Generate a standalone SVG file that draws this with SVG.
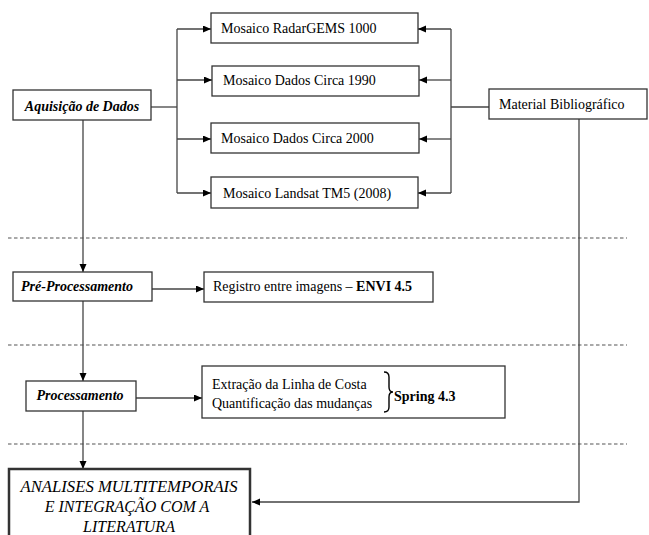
<svg xmlns="http://www.w3.org/2000/svg" width="649" height="535" viewBox="0 0 649 535" font-family="'Liberation Serif', 'DejaVu Serif', serif">
<style>
.box{fill:#fff;stroke:#333;stroke-width:1.3}
.thick{fill:#fff;stroke:#333;stroke-width:2.5}
.ln{fill:none;stroke:#444;stroke-width:1.3}
.dash{fill:none;stroke:#555;stroke-width:1.2;stroke-dasharray:3.5 2.5}
.t{font-size:14px}
.bi{font-size:14px;font-weight:bold;font-style:italic}
.it{font-size:16px;font-style:italic}
.b{font-weight:bold}
</style>
<defs>
<marker id="ah" markerUnits="userSpaceOnUse" markerWidth="9" markerHeight="8" refX="8" refY="3.5" orient="auto">
<path d="M0,0 L8,3.5 L0,7 z" fill="#000"/>
</marker>
</defs>
<g id="separators">
<line class="dash" x1="8" y1="238" x2="627" y2="238"/>
<line class="dash" x1="8" y1="345" x2="627" y2="345"/>
<line class="dash" x1="8" y1="444" x2="627" y2="444"/>
</g>
<g id="connectors">
<path class="ln" d="M151,107 H177"/>
<path class="ln" d="M177,29 V193"/>
<path class="ln" d="M177,29 H211" marker-end="url(#ah)"/>
<path class="ln" d="M177,80 H212" marker-end="url(#ah)"/>
<path class="ln" d="M177,139 H211" marker-end="url(#ah)"/>
<path class="ln" d="M177,193 H211" marker-end="url(#ah)"/>
<path class="ln" d="M451,29 V193"/>
<path class="ln" d="M489,107 H451"/>
<path class="ln" d="M451,29 H418" marker-end="url(#ah)"/>
<path class="ln" d="M451,80 H419" marker-end="url(#ah)"/>
<path class="ln" d="M451,139 H419" marker-end="url(#ah)"/>
<path class="ln" d="M451,193 H418" marker-end="url(#ah)"/>
<path class="ln" d="M83,120 V272" marker-end="url(#ah)"/>
<path class="ln" d="M152,289 H204" marker-end="url(#ah)"/>
<path class="ln" d="M83,301 V381" marker-end="url(#ah)"/>
<path class="ln" d="M136,398 H202" marker-end="url(#ah)"/>
<path class="ln" d="M83,411 V469" marker-end="url(#ah)"/>
<path class="ln" d="M579,119 V502 H252" marker-end="url(#ah)"/>
</g>
<g id="aquisicao">
<rect class="box" x="13" y="90" width="138" height="30"/>
<text class="bi" x="82" y="111" text-anchor="middle">Aquisição de Dados</text>
</g>
<g id="mosaico-radargems">
<rect class="box" x="211" y="13" width="207" height="30"/>
<text class="t" x="221" y="33">Mosaico RadarGEMS 1000</text>
</g>
<g id="mosaico-1990">
<rect class="box" x="212" y="66" width="207" height="30"/>
<text class="t" x="223" y="85">Mosaico Dados Circa 1990</text>
</g>
<g id="mosaico-2000">
<rect class="box" x="211" y="123" width="208" height="30"/>
<text class="t" x="221" y="143">Mosaico Dados Circa 2000</text>
</g>
<g id="mosaico-landsat">
<rect class="box" x="211" y="177" width="207" height="31"/>
<text class="t" x="223" y="198">Mosaico Landsat TM5 (2008)</text>
</g>
<g id="material">
<rect class="box" x="489" y="89" width="158" height="30"/>
<text class="t" x="499" y="109">Material Bibliográfico</text>
</g>
<g id="pre-processamento">
<rect class="box" x="13" y="272" width="139" height="29"/>
<text class="bi" x="77" y="291" text-anchor="middle">Pré-Processamento</text>
</g>
<g id="registro">
<rect class="box" x="204" y="272" width="229" height="30"/>
<text class="t" x="213" y="291">Registro entre imagens – <tspan class="b">ENVI 4.5</tspan></text>
</g>
<g id="processamento">
<rect class="box" x="26" y="381" width="110" height="30"/>
<text class="bi" x="80" y="400" text-anchor="middle">Processamento</text>
</g>
<g id="extracao">
<rect class="box" x="202" y="366" width="303" height="52"/>
<text class="t" x="212" y="389">Extração da Linha de Costa</text>
<text class="t" x="212" y="408">Quantificação das mudanças</text>
<path d="M384,372 Q389,372 389,377 V387 Q389,392 393,392 Q389,392 389,397 V407 Q389,412 384,412" fill="none" stroke="#000" stroke-width="1.4"/>
<text class="t b" x="394" y="401">Spring 4.3</text>
</g>
<g id="analises">
<rect class="thick" x="9" y="469" width="241" height="80"/>
<text class="it" x="129" y="492" text-anchor="middle" textLength="217" lengthAdjust="spacingAndGlyphs">ANALISES MULTITEMPORAIS</text>
<text class="it" x="127" y="512" text-anchor="middle">E INTEGRAÇÃO COM A</text>
<text class="it" x="129" y="532" text-anchor="middle">LITERATURA</text>
</g>
</svg>
